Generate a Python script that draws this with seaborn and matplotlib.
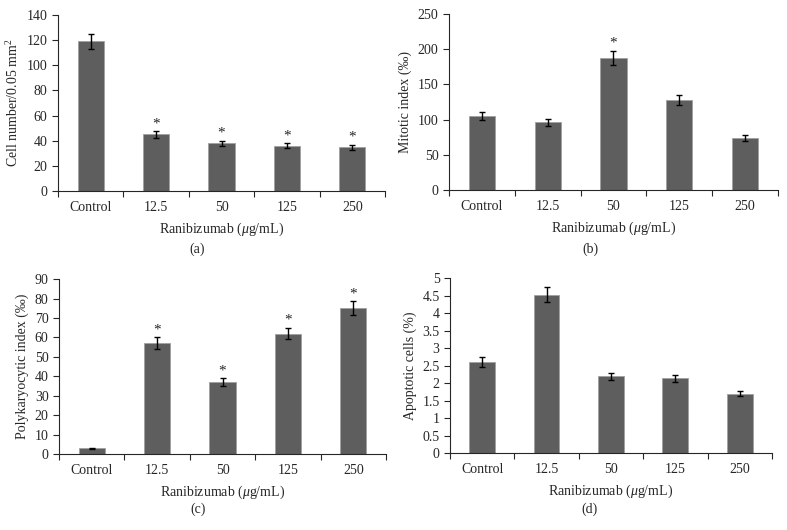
import matplotlib
matplotlib.use("Agg")
import matplotlib.pyplot as plt
import pandas as pd
import seaborn as sns

doses = ["Control", "12.5", "50", "125", "250"]

cell_number = [119, 45, 38, 36, 35]
cell_number_err = [6, 2.5, 2, 2, 2]
cell_number_sig = [False, True, True, True, True]

mitotic = [105, 96, 188, 128, 74]
mitotic_err = [6, 5, 10, 7, 4]
mitotic_sig = [False, False, True, False, False]

polykaryocytic = [3, 57, 37, 62, 75]
polykaryocytic_err = [0.3, 3, 2, 3, 3.5]
polykaryocytic_sig = [False, True, True, True, True]

apoptotic = [2.6, 4.53, 2.2, 2.13, 1.7]
apoptotic_err = [0.13, 0.22, 0.1, 0.1, 0.08]
apoptotic_sig = [False, False, False, False, False]

sns.set_style("ticks")
plt.rcParams["font.family"] = ["Liberation Serif", "DejaVu Serif"]
plt.rcParams["mathtext.fontset"] = "custom"
plt.rcParams["mathtext.rm"] = "Liberation Serif"
plt.rcParams["mathtext.it"] = "Liberation Serif:italic"

BAR_COLOR = "#5e5e5e"
XLABEL = r"Ranibizumab ($\mathit{\mu}$g/mL)"


def plot_panel(ax, values, errs, sig, ylabel, ylim, step):
    data = pd.DataFrame({"dose": doses, "value": values})
    sns.barplot(data=data, x="dose", y="value", color=BAR_COLOR, width=0.4,
                errorbar=None, saturation=1, ax=ax, edgecolor="#a0a0a0", linewidth=0.6)
    ax.errorbar(range(len(doses)), values, yerr=errs, fmt="none", ecolor="black",
                elinewidth=1, capsize=2.5, capthick=1)
    for i, (v, e, s) in enumerate(zip(values, errs, sig)):
        if s:
            ax.text(i, v + e + ylim * 0.005, "*", ha="center", va="bottom", fontsize=11)
    ax.set_xlim(-0.5, len(doses) - 0.5)
    ax.set_ylim(0, ylim)
    ticks = [k * step for k in range(int(round(ylim / step)) + 1)]
    ax.set_yticks(ticks)
    ax.set_yticklabels([f"{t:g}" for t in ticks])
    ax.set_xticks([i - 0.5 for i in range(len(doses) + 1)], minor=True)
    ax.tick_params(axis="x", which="major", length=0, pad=7)
    ax.tick_params(axis="x", which="minor", length=4, width=0.8)
    ax.tick_params(axis="y", length=4, width=0.8)
    ax.tick_params(labelsize=10)
    ax.set_xlabel(XLABEL, fontsize=10, labelpad=5)
    ax.set_ylabel(ylabel, fontsize=10, labelpad=4)
    for side in ("top", "right"):
        ax.spines[side].set_visible(False)
    for side in ("left", "bottom"):
        ax.spines[side].set_linewidth(0.8)


fig = plt.figure(figsize=(7.87, 5.30), dpi=100)
ax_a = fig.add_axes([0.0737, 0.6396, 0.4155, 0.332])
ax_b = fig.add_axes([0.5705, 0.6415, 0.418, 0.332])
ax_c = fig.add_axes([0.075, 0.1434, 0.4155, 0.330])
ax_d = fig.add_axes([0.5718, 0.1453, 0.409, 0.330])

plot_panel(ax_a, cell_number, cell_number_err, cell_number_sig,
           r"Cell number/0.05 mm$^2$", 140, 20)
plot_panel(ax_b, mitotic, mitotic_err, mitotic_sig,
           "Mitotic index (‰)", 250, 50)
plot_panel(ax_c, polykaryocytic, polykaryocytic_err, polykaryocytic_sig,
           "Polykaryocytic index (‰)", 90, 10)
plot_panel(ax_d, apoptotic, apoptotic_err, apoptotic_sig,
           "Apoptotic cells (%)", 5, 0.5)

fig.text(197 / 787, 1 - 249 / 530, "(a)", ha="center", va="center", fontsize=10)
fig.text(590 / 787, 1 - 249 / 530, "(b)", ha="center", va="center", fontsize=10)
fig.text(198 / 787, 1 - 509 / 530, "(c)", ha="center", va="center", fontsize=10)
fig.text(589 / 787, 1 - 509 / 530, "(d)", ha="center", va="center", fontsize=10)

fig.savefig("out.png", dpi=100)
